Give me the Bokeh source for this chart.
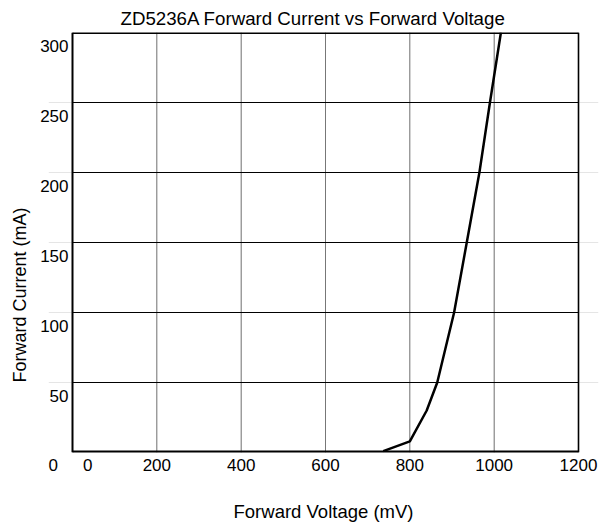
from bokeh.plotting import figure
from bokeh.models import Range1d, LinearAxis, FixedTicker, Title
from bokeh.embed import file_html
from bokeh.resources import INLINE

# Data
voltage_mv = [737, 800, 840, 865, 905, 935, 965, 990, 1016]
current_ma = [1, 8, 30, 50, 100, 150, 200, 250, 300]

x_grid_ticks = [0, 200, 400, 600, 800, 1000, 1200]
y_grid_ticks = [0, 50, 100, 150, 200, 250, 300]
# tick labels as printed in the source (its "0" labels sit a little off the grid)
x_label_ticks = [-46, 36, 200, 400, 600, 800, 1000, 1200]
x_label_text = ["0", "0", "200", "400", "600", "800", "1000", "1200"]
y_label_ticks = [50, 100, 150, 200, 250, 300]

FONT = "Liberation Sans"
Y_LABEL_SHIFT = 9.64   # y tick labels are printed a little below their grid lines
X_PAD_LEFT = 56.92     # room left of the box for the lowest y tick label
X_PAD_RIGHT = 47.43    # room right of the box so the x title centres as in the source

x0, x1 = x_grid_ticks[0], x_grid_ticks[-1]
y0, y1 = y_grid_ticks[0], y_grid_ticks[-1]

p = figure(
    frame_width=550, frame_height=420,
    x_range=Range1d(x0 - X_PAD_LEFT, x1 + X_PAD_RIGHT), y_range=Range1d(y0, y1),
    x_axis_location=None, y_axis_location=None,
    output_backend="svg", toolbar_location=None,
    min_border_left=48, min_border_right=5,
    min_border_top=32, min_border_bottom=77,
    background_fill_color="white", border_fill_color="white",
)
p.outline_line_color = None

# grid lines limited to the chart box
vx = x_grid_ticks[1:-1]
p.segment(x0=vx, y0=[y0] * len(vx), x1=vx, y1=[y1] * len(vx),
          line_color="#777777", line_width=1)
hy = y_grid_ticks[1:-1]
p.segment(x0=[x0] * len(hy), y0=hy, x1=[x1] * len(hy), y1=hy,
          line_color="#000000", line_width=1)

# box border
p.segment(x0=[x0], y0=[y0], x1=[x1], y1=[y0], line_color="black", line_width=4)
p.segment(x0=[x0], y0=[y0], x1=[x0], y1=[y1], line_color="black", line_width=2)
p.segment(x0=[x1], y0=[y0], x1=[x1], y1=[y1], line_color="black", line_width=1.6)
p.segment(x0=[x0], y0=[y1], x1=[x1], y1=[y1], line_color="black", line_width=3)

p.line(voltage_mv, current_ma, line_color="black", line_width=2.5)

# x axis
xa = LinearAxis(
    ticker=FixedTicker(ticks=x_label_ticks),
    major_label_overrides={t: s for t, s in zip(x_label_ticks, x_label_text)},
    axis_line_color=None, major_tick_line_color=None, minor_tick_line_color=None,
    major_tick_out=0, major_tick_in=0, major_label_standoff=6,
    major_label_text_font=FONT, major_label_text_font_size="17px",
    major_label_text_color="black",
    axis_label="Forward Voltage (mV)", axis_label_text_font=FONT,
    axis_label_text_font_size="18.5px", axis_label_text_font_style="normal",
    axis_label_text_color="black", axis_label_standoff=27,
)
p.add_layout(xa, "below")

# y axis labels
p.extra_y_ranges = {"ylab": Range1d(y0 + Y_LABEL_SHIFT, y1 + Y_LABEL_SHIFT)}
ya = LinearAxis(
    y_range_name="ylab", ticker=FixedTicker(ticks=y_label_ticks),
    axis_line_color=None, major_tick_line_color=None, minor_tick_line_color=None,
    major_tick_out=0, major_tick_in=0, major_label_standoff=-20,
    major_label_text_font=FONT, major_label_text_font_size="17px",
    major_label_text_color="black",
)
p.add_layout(ya, "left")

yt = Title(text="Forward Current (mA)", align="left", offset=70,
           text_font=FONT, text_font_size="18px", text_font_style="normal",
           text_color="black", standoff=15)
p.add_layout(yt, "left")

p.title.text = "ZD5236A Forward Current vs Forward Voltage"
p.title.align = "left"
p.title.offset = 72
p.title.text_font = FONT
p.title.text_font_size = "18.7px"
p.title.text_font_style = "normal"
p.title.text_color = "black"
p.title.standoff = 7

open("out.html", "w").write(file_html(p, INLINE))
